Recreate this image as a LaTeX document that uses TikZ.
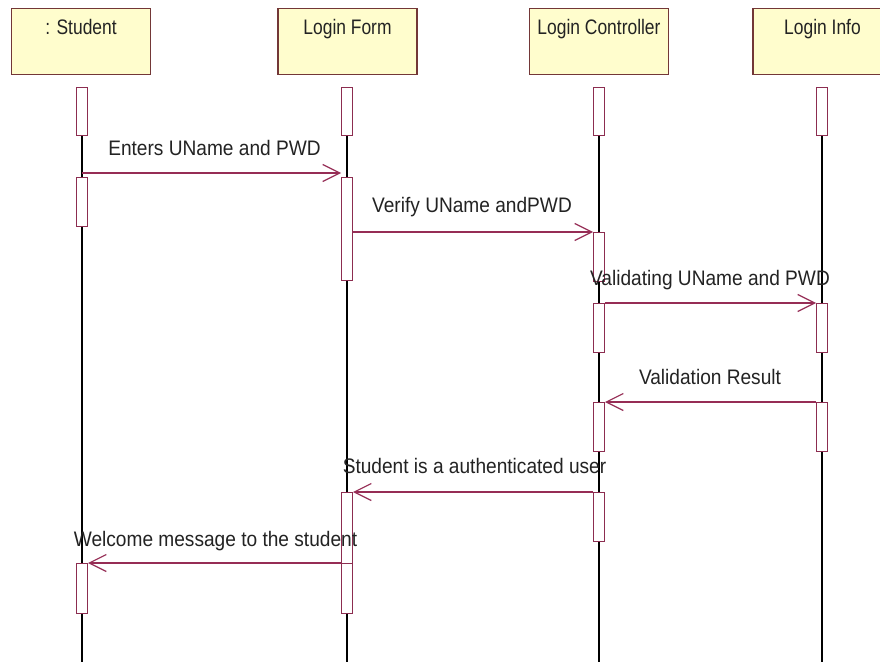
\documentclass[tikz,border=0pt]{standalone}
\usepackage{fontspec}
\setmainfont{Liberation Sans}[FakeStretch=0.91]
\newfontfamily\hdrfont{Liberation Sans}[FakeStretch=0.83]
\usetikzlibrary{arrows.meta,backgrounds}
\definecolor{boxfill}{RGB}{255,253,205}
\definecolor{boxborder}{RGB}{115,55,55}
\definecolor{msgcol}{RGB}{150,45,85}
\definecolor{actborder}{RGB}{140,45,80}
\definecolor{txtcol}{RGB}{35,35,35}
\begin{document}
\begin{tikzpicture}[x=1pt,y=-1pt,
  hdr/.style={draw=boxborder, fill=boxfill, line width=1.2pt, minimum width=139pt,
    minimum height=66pt, anchor=north, inner ysep=0pt, text height=26pt, text depth=40pt,
    text=txtcol, font=\hdrfont\fontsize{21pt}{24pt}\selectfont},
  act/.style={draw=actborder, fill=white, line width=1pt, minimum width=11pt,
    minimum height=#1, anchor=north, inner sep=0pt},
  life/.style={draw=black, line width=1.2pt},
  msg/.style={draw=msgcol, line width=1.2pt, -{Straight Barb[length=17pt,width=17pt,line width=1.2pt]}},
  lbl/.style={anchor=base, inner sep=0pt, text=txtcol, font=\fontsize{21pt}{24pt}\selectfont}
]
\clip (0,0) rectangle (880,661);
\coordinate (bot) at (0,670);

% headers
\node[hdr] (hs) at (81,8) {: Student};
\node[hdr] (hf) at (347.5,8) {Login Form};
\node[hdr] (hc) at (599,8) {Login Controller};
\node[hdr] (hi) at (822.5,8) {Login Info};

% activations: Student
\node[act=48pt] (s0) at (82,87) {};
\node[act=49pt] (s1) at (82,177) {};
\node[act=50pt] (s2) at (82,563) {};
% Login Form
\node[act=48pt] (f0) at (347,87) {};
\node[act=103pt] (f1) at (347,177) {};
\node[act=71pt] (f2) at (347,492) {};
\node[act=50pt] (f3) at (347,563) {};
% Login Controller
\node[act=48pt] (c0) at (599,87) {};
\node[act=49pt] (c1) at (599,232) {};
\node[act=49pt] (c2) at (599,303) {};
\node[act=49pt] (c3) at (599,402) {};
\node[act=49pt] (c4) at (599,492) {};
% Login Info
\node[act=48pt] (i0) at (822,87) {};
\node[act=49pt] (i1) at (822,303) {};
\node[act=49pt] (i2) at (822,402) {};

% lifelines
\begin{pgfonlayer}{background}
\fill[white] (0,0) rectangle (880,661);
\draw[life] (s0.south) -- (s0.south |- bot);
\draw[life] (f0.south) -- (f0.south |- bot);
\draw[life] (c0.south) -- (c0.south |- bot);
\draw[life] (i0.south) -- (i0.south |- bot);
\end{pgfonlayer}

% messages
\coordinate (m1) at (82,173);
\draw[msg] (m1) -- (m1 -| f1.west);
\draw[msg] (c1.north west -| f1.east) -- (c1.north west);
\draw[msg] (c2.north east) -- (i1.north west);
\draw[msg] (i2.north west) -- (c3.north east);
\draw[msg] (c4.north west) -- (f2.north east);
\draw[msg] (f3.north west) -- (s2.north east);

% labels
\node[lbl] (l1) at (214.5,155) {Enters UName and PWD};
\node[lbl] (l2) at (472,212) {Verify UName andPWD};
\node[lbl] (l3) at (710,285) {Validating UName and PWD};
\node[lbl] (l4) at (710,384) {Validation Result};
\node[lbl] (l5) at (474.5,473) {Student is a authenticated user};
\node[lbl] (l6) at (215.5,546) {Welcome message to the student};
\end{tikzpicture}
\end{document}
